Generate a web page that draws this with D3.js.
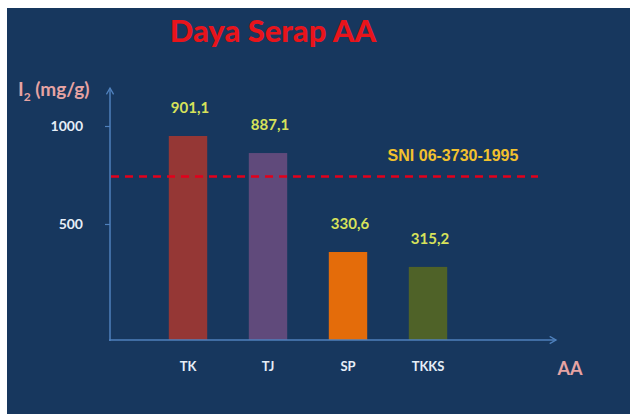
<!DOCTYPE html>
<html>
<head>
<script src="https://d3js.org/d3.v7.min.js"></script>
<style>
  body { margin: 0; background: #fff; }
  text { font-family: Lato, "Open Sans", sans-serif; font-weight: bold; }
</style>
</head>
<body>
<svg width="630" height="414"></svg>
<script>
// data
const categories = ["TK", "TJ", "SP", "TKKS"];
const barValues = [949, 862, 357, 281];          // bar heights as drawn
const valueLabels = ["901,1", "887,1", "330,6", "315,2"];
const barColors = ["#953735", "#604A7B", "#E46C0A", "#4F6228"];
const yTicks = [500, 1000];
const sniValue = 742;
const sniLabel = "SNI 06-3730-1995";

const svg = d3.select("svg");

// panel
svg.append("rect")
  .attr("x", 7).attr("y", 8)
  .attr("width", 623).attr("height", 406)
  .attr("fill", "#17375E");

svg.append("text")
  .attr("x", 273).attr("y", 42)
  .attr("text-anchor", "middle")
  .style("font-size", "31px")
  .style("font-weight", 900)
  .attr("fill", "#E8141B")
  .text("Daya Serap AA");

const x = d3.scaleBand().domain(categories).range([148, 468]).paddingInner(0.52).paddingOuter(0.26);
const y = d3.scaleLinear().domain([-92, 1000]).range([340, 126]);
const axisColor = "#4F81BD";

// arrow marker
const defs = svg.append("defs");
defs.append("marker")
  .attr("id", "arr")
  .attr("viewBox", "0 0 10 10")
  .attr("refX", 8).attr("refY", 5)
  .attr("markerWidth", 6).attr("markerHeight", 6)
  .attr("orient", "auto")
  .append("path")
  .attr("d", "M1,1 L8,5 L1,9")
  .attr("fill", "none")
  .attr("stroke", axisColor)
  .attr("stroke-width", 1.5);

// bars
svg.selectAll(".bar")
  .data(barValues)
  .enter().append("rect")
  .attr("class", "bar")
  .attr("x", (d, i) => x(categories[i]))
  .attr("width", x.bandwidth())
  .attr("y", d => y(d))
  .attr("height", d => y(-92) - y(d))
  .attr("fill", (d, i) => barColors[i]);

// value labels
svg.selectAll(".vlab")
  .data(barValues)
  .enter().append("text")
  .attr("x", (d, i) => x(categories[i]) + x.bandwidth() / 2 + 2)
  .attr("y", d => y(d) - 23)
  .attr("text-anchor", "middle")
  .style("font-size", "15px")
  .attr("fill", "#D7E25A")
  .text((d, i) => valueLabels[i]);

// SNI line
svg.append("line")
  .attr("x1", 111).attr("x2", 538)
  .attr("y1", y(sniValue)).attr("y2", y(sniValue))
  .attr("stroke", "#E3001B")
  .attr("stroke-width", 2.5)
  .attr("stroke-dasharray", "8 6");

svg.append("text")
  .attr("x", 453).attr("y", 161)
  .attr("text-anchor", "middle")
  .style("font-family", "'Liberation Sans', Arial, sans-serif")
  .style("font-size", "16px")
  .attr("fill", "#F2C12E")
  .text(sniLabel);

// y axis
const yAxis = svg.append("g")
  .attr("transform", "translate(110,0)")
  .call(d3.axisLeft(y).tickValues(yTicks).tickFormat(d3.format("d")).tickSize(5).tickPadding(22));
yAxis.select(".domain").remove();
yAxis.selectAll("line").attr("stroke", axisColor).attr("stroke-width", 1.2);
yAxis.selectAll("text")
  .style("font-family", "Lato, sans-serif")
  .style("font-size", "14px")
  .attr("fill", "#E6EEF7");

svg.append("line")
  .attr("x1", 110).attr("x2", 110)
  .attr("y1", 341).attr("y2", 88)
  .attr("stroke", axisColor).attr("stroke-width", 1.5)
  .attr("marker-end", "url(#arr)");

// x axis
const xAxis = svg.append("g")
  .attr("transform", "translate(0,340)")
  .call(d3.axisBottom(x).tickSize(0).tickPadding(22));
xAxis.select(".domain").remove();
xAxis.selectAll("text")
  .style("font-family", "Lato, sans-serif")
  .style("font-size", "13px")
  .attr("fill", "#E6EEF7");

svg.append("line")
  .attr("x1", 109).attr("x2", 556)
  .attr("y1", 340).attr("y2", 340)
  .attr("stroke", axisColor).attr("stroke-width", 1.5)
  .attr("marker-end", "url(#arr)");

// axis titles
const yt = svg.append("text")
  .attr("x", 18).attr("y", 96)
  .style("font-size", "19px")
  .attr("fill", "#E6A3A3");
yt.append("tspan").text("I");
yt.append("tspan").attr("dy", 5).style("font-size", "12px").text("2");
yt.append("tspan").attr("dy", -5).text(" (mg/g)");

svg.append("text")
  .attr("x", 570).attr("y", 375)
  .attr("text-anchor", "middle")
  .style("font-size", "18px")
  .attr("fill", "#E6A3A3")
  .text("AA");
</script>
</body>
</html>
